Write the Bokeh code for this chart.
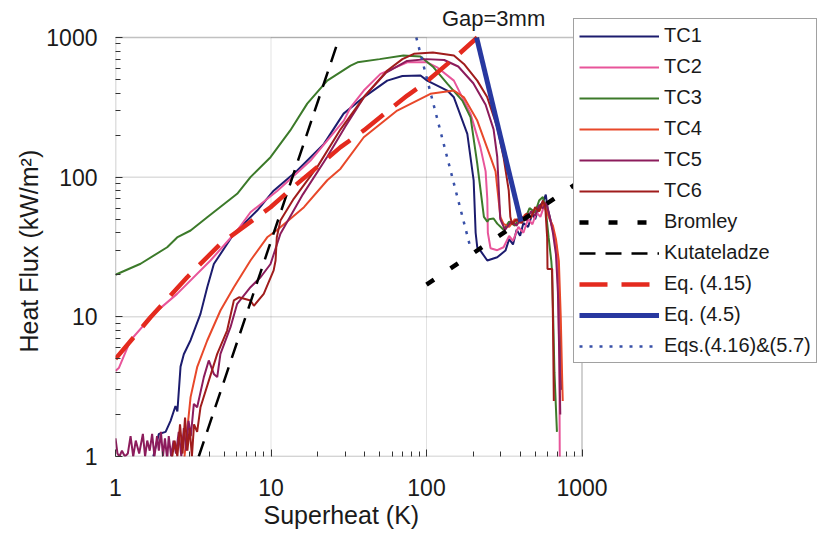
from bokeh.plotting import figure
from bokeh.models import (Range1d, FixedTicker, Legend, LegendItem, NumeralTickFormatter,
                          Label, BoxAnnotation, Title, LogAxis)
from bokeh.embed import file_html
from bokeh.resources import INLINE

FONT = "Liberation Sans"

# ---------------- data ----------------
tc1_x = [1.75, 1.9, 2.1, 2.26, 2.43, 2.5, 2.62, 2.75, 3.04, 3.52, 3.89, 4.29, 5.77, 8.15, 10.4, 14.7,
         21.9, 29.3, 39.4, 55.9, 70, 91.5, 101, 136, 150, 183, 201, 207, 212, 222, 246, 285, 322,
         340, 360, 380, 400, 420, 450, 480, 500, 530, 560, 585, 600, 620, 650, 680, 700, 720, 735]
tc1_y = [1.0, 1.45, 1.5, 1.8, 2.3, 2.1, 4.4, 5.4, 6.8, 10.5, 16.3, 23.9, 39.3, 57.7, 80, 111,
         173, 285, 373, 491, 530, 534, 491, 417, 373, 204, 95, 40, 31.5, 29.8, 25.3, 26.7, 29.8,
         36, 33, 42, 38, 47, 44, 55, 50, 62, 66, 75, 60, 52, 42, 34, 22, 9, 3]

tc2_x = [1.0, 1.05, 1.25, 1.76, 2.49, 4.08, 6.06, 7.38, 11.0, 17.9, 29.4, 32.5, 39.5, 50.6, 75.2,
         101, 117, 150, 192, 222, 240, 246, 248, 258, 285, 313, 340, 360, 390, 420, 450, 480, 510,
         540, 570, 600, 630, 660, 690, 705, 715, 720]
tc2_y = [4.1, 4.3, 6.8, 10.5, 14.6, 25.3, 41.5, 56.1, 80, 131, 254, 316, 417, 549, 664,
         664, 612, 491, 284, 164, 110, 70, 40, 31, 30, 31.5, 38, 35, 44, 40, 50, 46, 56,
         52, 62, 55, 48, 40, 28, 14, 5, 0.8]

tc3_x = [1.0, 1.45, 2.15, 2.49, 3.04, 3.89, 6.06, 7.38, 9.93, 13.3, 17.1, 23, 32.5, 36, 50, 71,
         91.5, 111, 136, 170, 192, 212, 234, 246, 252, 270, 285, 313, 340, 370, 400, 430, 460,
         500, 530, 560, 585, 610, 635, 640, 650, 665, 690]
tc3_y = [20, 24, 31.5, 37, 41.5, 51.6, 76, 100, 139, 216, 336, 491, 629, 664, 700, 742,
         730, 612, 468, 353, 268, 125, 52, 48, 50, 50.6, 46.5, 42, 48, 45, 53, 50, 60,
         56, 68, 72, 58, 37, 25, 22, 12, 4, 1.5]

tc4_x = [2.75, 2.89, 3.04, 3.35, 3.89, 4.73, 5.77, 7.38, 9.45, 11, 16.3, 23, 28, 39.5, 64.8, 106,
         150, 174, 212, 258, 278, 285, 299, 313, 340, 370, 400, 430, 470, 500, 530, 560, 590,
         620, 650, 680, 710, 730, 746, 752]
tc4_y = [0.9, 1.53, 2.66, 4.36, 6.77, 11.1, 16.3, 25.3, 37.1, 42, 61, 95, 115, 193, 300, 395,
         417, 373, 254, 139, 110, 84.7, 51.6, 46.3, 44, 50, 47, 54, 52, 60, 57, 64, 58,
         50, 45, 36, 25, 10, 3.5, 2.5]

tc5_x = [1.0, 1.03, 1.06, 1.1, 1.15, 1.2, 1.25, 1.3, 1.35, 1.42, 1.5, 1.55, 1.6, 1.66, 1.72, 1.78,
         1.85, 1.9, 1.96, 2.02, 2.08, 2.15, 2.2, 2.28, 2.36, 2.45, 2.55, 2.65, 2.75, 2.85, 2.95,
         3.05, 3.19, 3.35, 3.7, 3.98, 4.29, 4.51, 4.73, 5.49, 6.06, 7.38, 8.57, 9.93, 11.5, 16, 23,
         30, 40, 55, 75, 100, 130, 160, 200, 240, 270, 285, 292, 298, 320, 350, 380, 410, 440,
         470, 500, 530, 560, 590, 620, 650, 680, 700, 715, 725]
tc5_y = [1.35, 1.05, 1.0, 1.1, 1.0, 1.05, 1.4, 1.0, 1.3, 1.05, 1.45, 1.0, 1.3, 1.1, 1.45, 1.0,
         1.4, 1.1, 1.5, 1.0, 1.35, 0.95, 1.4, 1.0, 1.3, 1.05, 1.5, 1.0, 1.6, 1.1, 1.8,
         1.4, 2.38, 2.25, 3.7, 4.87, 3.9, 3.7, 5.43, 8.43, 12.4, 16.3, 19.2, 23.9, 39.3, 75, 140,
         230, 380, 560, 680, 700, 690, 620, 470, 330, 220, 140, 80, 50, 42, 48, 45, 52, 49,
         57, 53, 63, 60, 66, 52, 40, 28, 15, 5, 2]

tc6_x = [2.3, 2.4, 2.5, 2.6, 2.7, 2.8, 2.9, 3.0, 3.1, 3.2, 3.35, 3.52, 4.51, 5.22, 5.77, 6.22,
         7.38, 7.76, 8.98, 10.4, 10.7, 10.9, 11.5, 14, 20, 28, 40, 56, 70, 83, 110, 150, 174,
         212, 246, 285, 313, 338, 346, 355, 380, 410, 440, 470, 500, 530, 560, 580, 597, 600,
         643, 650, 659]
tc6_y = [0.95, 1.3, 1.0, 1.7, 1.05, 1.9, 1.1, 1.6, 1.0, 1.7, 1.5, 2.25, 5.43, 7.98, 13.1, 13.8,
         13.1, 12.0, 14.6, 21.5, 25.3, 37.1, 48.9, 70, 120, 220, 380, 580, 700, 764, 780, 742, 647,
         491, 373, 228, 139, 80, 52, 46, 50, 47, 55, 51, 61, 57, 68, 62, 37, 22,
         22, 10, 2.5]

bromley_x = [100, 1000]
bromley_y = [17, 95.5]

kut_x = [3.43, 27.5]
kut_y = [1, 1000]

eq415_x = [1.0, 1.68, 2.89, 4.73, 9.93, 14.7, 19.8, 28, 39.5, 75.2, 96, 153, 212]
eq415_y = [5.0, 9.94, 19.2, 33.3, 60.9, 89.5, 118, 164, 216, 384, 465, 721, 1000]

eq45_x = [210, 405]
eq45_y = [1000, 48]

eq416_x = [86, 192]
eq416_y = [1000, 31]

labels = ["TC1", "TC2", "TC3", "TC4", "TC5", "TC6", "Bromley", "Kutateladze",
          "Eq. (4.15)", "Eq. (4.5)", "Eqs.(4.16)&(5.7)"]

axis_min, axis_max = 1, 1000
major_ticks = [1, 10, 100, 1000]
grid_ticks = [10, 100]
minor_ticks = [m * d for d in (1, 10, 100) for m in range(2, 10)]

styles = [
    dict(line_color="#1c1c6e", line_width=2),
    dict(line_color="#e8559a", line_width=2),
    dict(line_color="#3c7a2a", line_width=2),
    dict(line_color="#e8482a", line_width=2),
    dict(line_color="#8c1c5c", line_width=2),
    dict(line_color="#a01c1c", line_width=2),
    dict(line_color="black", line_width=4.5, line_dash="9 20"),
    dict(line_color="black", line_width=2.5, line_dash="16 10"),
    dict(line_color="#e42a1e", line_width=4.5, line_dash="28 14"),
    dict(line_color="#2838a0", line_width=5),
    dict(line_color="#3850a8", line_width=2.5, line_dash="3 7"),
]
series = [(tc1_x, tc1_y), (tc2_x, tc2_y), (tc3_x, tc3_y), (tc4_x, tc4_y), (tc5_x, tc5_y),
          (tc6_x, tc6_y), (bromley_x, bromley_y), (kut_x, kut_y), (eq415_x, eq415_y),
          (eq45_x, eq45_y), (eq416_x, eq416_y)]

# ---------------- layout geometry ----------------
W, H = 821, 554
LEFT, BOTTOM = 115, 98
DEC_X, DEC_Y = 155.5, 139.67          # pixels per decade
x_end = 10 ** ((W - LEFT) / DEC_X)    # frame reaches to the right edge (legend sits there)
y_end = 10 ** ((H - BOTTOM) / DEC_Y)  # frame reaches to the top edge (title sits there)

p = figure(width=W, height=H, x_axis_type="log", y_axis_type="log", title=None,
           x_range=Range1d(axis_min, x_end), y_range=Range1d(axis_min, y_end),
           output_backend="svg", toolbar_location=None,
           min_border_left=LEFT, min_border_right=0, min_border_top=0, min_border_bottom=BOTTOM)
p.background_fill_color = "white"
p.border_fill_color = "white"
p.outline_line_color = None
p.xgrid.visible = False
p.ygrid.visible = False

# grid lines (bounded to the plotting box)
p.add_layout(BoxAnnotation(left=grid_ticks[0], right=grid_ticks[1], bottom=axis_min, top=axis_max,
                           fill_alpha=0, line_color="#a0a0a0", line_width=1, level="underlay"))
p.add_layout(BoxAnnotation(left=axis_min, right=axis_max, bottom=grid_ticks[0], top=grid_ticks[1],
                           fill_alpha=0, line_color="#555555", line_width=1, level="underlay"))

for ax in (p.xaxis, p.yaxis):
    ax.bounds = (axis_min, axis_max)
    ax.ticker = FixedTicker(ticks=major_ticks, minor_ticks=minor_ticks)
    ax.formatter = NumeralTickFormatter(format="0")
    ax.major_label_text_font = FONT
    ax.major_label_text_font_size = "23px"
    ax.major_label_text_color = "#1a1a1a"
    ax.axis_line_color = None
    ax.major_tick_in = 7
    ax.major_tick_out = 0
    ax.minor_tick_in = 5
    ax.minor_tick_out = 0
    ax.major_tick_line_color = "#333333"
    ax.minor_tick_line_color = "#333333"

p.xaxis.major_label_standoff = 22
p.yaxis.major_label_standoff = 18

# blank spacer between the x tick labels and the x title (no ticks, so nothing is drawn)
spacer = LogAxis(ticker=FixedTicker(ticks=[]), major_tick_out=22, major_tick_in=0,
                 minor_tick_out=0, minor_tick_in=0, axis_line_color=None,
                 major_tick_line_color="white", minor_tick_line_color="white")
p.add_layout(spacer, "below")

# axis titles, placed over the plotting box (1..1000) rather than the whole frame
p.add_layout(Title(text="Heat Flux (kW/m²)", align="left", offset=104, vertical_align="bottom",
                   text_font=FONT, text_font_size="25px", text_font_style="normal",
                   text_color="#1a1a1a", standoff=2), "left")
p.add_layout(Title(text="Superheat (K)", align="left", offset=148, vertical_align="bottom",
                   text_font=FONT, text_font_size="25px", text_font_style="normal",
                   text_color="#1a1a1a", standoff=0), "below")

renderers = []
for (sx, sy), st in zip(series, styles):
    renderers.append(p.line(sx, sy, **st))

# plotting box border
p.add_layout(BoxAnnotation(left=axis_min, right=axis_max, bottom=axis_min, top=axis_max,
                           fill_alpha=0, line_color="#333333", line_width=1.5))

p.add_layout(Label(x=270, y=1366, text="Gap=3mm", text_font=FONT, text_font_size="22px",
                   text_align="center", text_baseline="middle", text_color="#1a1a1a"))

legend = Legend(items=[LegendItem(label=lab, renderers=[r]) for lab, r in zip(labels, renderers)],
                location=(458, 93))
legend.label_text_font = FONT
legend.label_text_font_size = "20px"
legend.label_text_color = "#1a1a1a"
legend.glyph_width = 80
legend.glyph_height = 22
legend.label_height = 22
legend.label_standoff = 5
legend.spacing = 8
legend.padding = 5
legend.margin = 0
legend.border_line_color = "#444444"
legend.border_line_width = 1.5
legend.background_fill_color = "white"
legend.background_fill_alpha = 1
p.add_layout(legend, "center")

open("out.html", "w").write(file_html(p, INLINE))
